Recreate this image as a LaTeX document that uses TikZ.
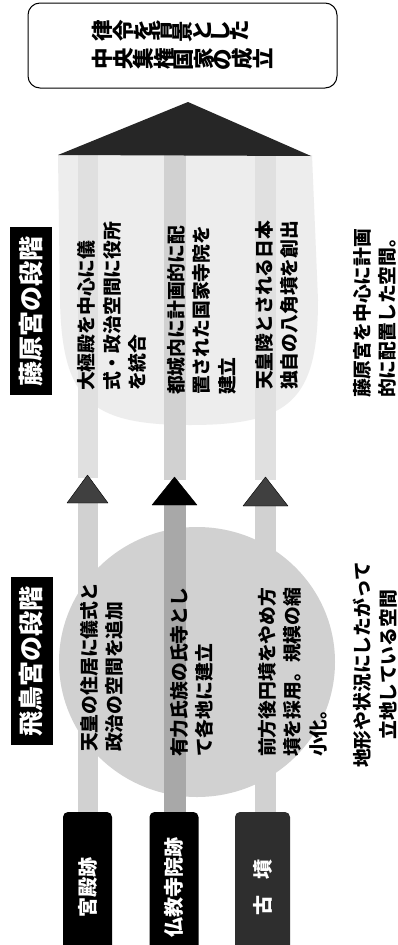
\documentclass[tikz,border=0pt]{standalone}
\usepackage{fontspec}
\usepackage{graphicx}
\newfontfamily\jp{Noto Sans CJK JP}
\newcommand\vc[1]{\ifx#1\relax\else\rotatebox[origin=c]{90}{#1}\expandafter\vc\fi}
\begin{document}
\begin{tikzpicture}[x=1pt,y=-1pt,
  body/.style={rotate=90, anchor=north west, inner sep=0pt, align=left,
    font=\jp\bfseries\fontsize{18.8pt}{25.5pt}\selectfont},
  captxt/.style={body, align=center},
  stage/.style={rotate=90, fill=black, text=white, minimum width=168pt,
    minimum height=42pt, inner sep=0pt, font=\jp\bfseries\fontsize{25pt}{25pt}\selectfont},
  site/.style={rotate=90, fill=black, text=white, minimum width=150pt,
    minimum height=49pt, rounded corners=5pt, inner sep=0pt,
    font=\jp\bfseries\fontsize{20pt}{20pt}\selectfont},
  smalltri/.style={fill=black!75, draw=black, line join=round}]
\useasboundingbox (0,0) rectangle (398,945);
\clip (0,0) rectangle (398,945);
\fill[white] (0,0) rectangle (398,945);
% Fujiwara stage region
\fill[black!7] (58,155) -- (312,155) -- (318,300) .. controls (318,400) and (290,425) .. (190,425)
  .. controls (90,425) and (62,400) .. (60,300) -- cycle;
% Asuka stage region
\fill[black!18] (197,662) ellipse [x radius=138pt, y radius=135pt];
% arrow shafts (upper, to the big head)
\fill[black!12] (78,155) rectangle (98,478);
\fill[black!18] (164,155) rectangle (186,480);
\fill[black!12] (255,155) rectangle (276,480);
% arrow shafts (lower, from the sites)
\fill[black!18] (78,503) rectangle (98,812);
\fill[black!34] (164,505) rectangle (186,812);
\fill[black!18] (255,506) rectangle (276,812);
% big arrow head
\fill[black!85] (58,155) -- (188,102) -- (311,156) -- cycle;
% small arrow heads
\path[smalltri] (67,503) -- (87.5,475) -- (108,503) -- cycle;
\path[fill=black, draw=black, line join=round] (152,505) -- (174.5,477) -- (197,505) -- cycle;
\path[smalltri] (243,506) -- (265.5,477) -- (288,506) -- cycle;
% goal box
\node[draw=black, line width=1pt, rounded corners=12pt, minimum width=309pt,
  minimum height=85pt, inner sep=0pt, align=left,
  font=\jp\bfseries\fontsize{21.5pt}{28pt}\selectfont] (goal) at (182.5,45.5)
  {\vc 律令を背景とした\relax\\\vc 中央集権国家の成立\relax};
% stage labels
\node[stage] (fuj) at (31,311) {藤原宮の段階};
\node[stage] (asu) at (31.5,661) {飛鳥宮の段階};
% Fujiwara texts
\node[body] (f1) at (77.5,391) {大極殿を中心に儀\\式・政治空間に役所\\を統合};
\node[body] (f2) at (167,395) {都城内に計画的に配\\置された国家寺院を\\建立};
\node[body] (f3) at (255,390) {天皇陵とされる日本\\独自の八角墳を創出};
\node[captxt] (fc) at (353,398) {藤原宮を中心に計画\\的に配置した空間。};
% Asuka texts
\node[body] (a1) at (80,752) {天皇の住居に儀式と\\政治の空間を追加};
\node[body] (a2) at (170,757) {有力氏族の氏寺とし\\て各地に建立};
\node[body] (a3) at (258,757) {前方後円墳をやめ方\\墳を採用。規模の縮\\小化。};
\node[captxt] (ac) at (353,768) {地形や状況にしたがって\\立地している空間};
% site labels
\node[site] (kyu) at (87.5,887) {宮殿跡};
\node[site] (bukk) at (174,887) {仏教寺院跡};
\node[site, fill=black!82, minimum height=55pt] (kofun) at (262.5,887) {古\hspace{16pt}墳};
\end{tikzpicture}
\end{document}
